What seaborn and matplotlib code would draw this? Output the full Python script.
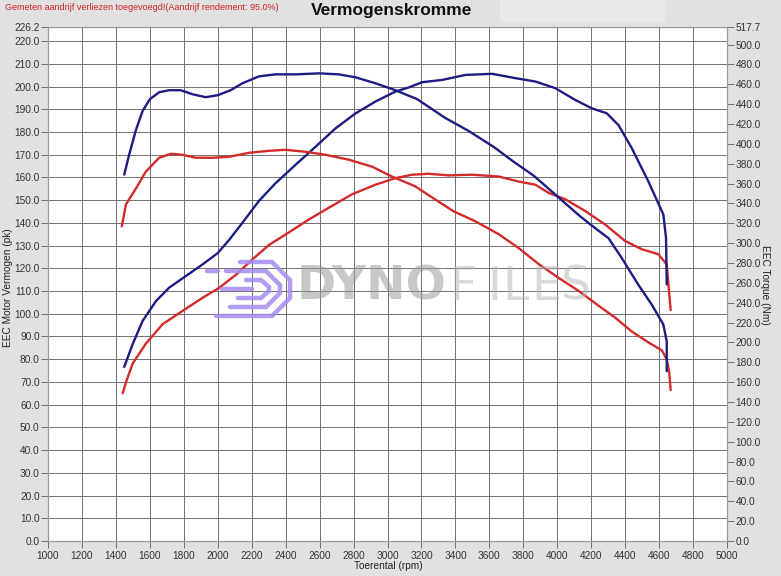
import matplotlib
matplotlib.use("Agg")
import matplotlib.pyplot as plt
from matplotlib.lines import Line2D
from matplotlib.patches import Rectangle
import seaborn as sns
import pandas as pd

# ---------------- data ----------------
tuned_torque_rpm = [1449, 1478, 1518, 1557, 1600, 1655, 1714, 1782, 1851, 1929, 2000, 2076, 2145, 2243,
                    2341, 2459, 2596, 2714, 2812, 2929, 3047, 3175, 3341, 3478, 3625, 3743, 3861, 3988,
                    4135, 4224, 4302, 4380, 4478, 4557, 4625, 4645, 4645]
tuned_torque_nm = [369, 389, 414, 433, 445, 452, 454, 454, 450, 447, 449, 454, 461, 468,
                   470, 470, 471, 470, 467, 461, 454, 445, 426, 413, 397, 382, 368, 349,
                   327, 315, 305, 285, 258, 238, 218, 201, 171]

tuned_power_rpm = [1449, 1498, 1557, 1635, 1714, 1812, 1910, 2000, 2067, 2145, 2243, 2341, 2459, 2576,
                   2694, 2812, 2929, 3047, 3125, 3204, 3322, 3459, 3616, 3753, 3871, 3988, 4106, 4204,
                   4292, 4361, 4439, 4537, 4625, 4641, 4645]
tuned_power_pk = [76.6, 86.5, 96.8, 105.5, 111.5, 116.6, 121.7, 126.7, 132.5, 140.0, 149.7, 157.5, 165.6, 173.5,
                  181.6, 188.2, 193.4, 197.8, 199.6, 201.9, 202.9, 205.1, 205.6, 203.7, 202.2, 199.3, 194.1, 190.4,
                  188.2, 183.0, 172.9, 158.2, 143.7, 133.2, 112.9]

stock_torque_rpm = [1435, 1459, 1518, 1576, 1655, 1724, 1792, 1871, 1969, 2067, 2184, 2302, 2400, 2518,
                    2635, 2773, 2910, 3027, 3125, 3165, 3263, 3390, 3518, 3655, 3773, 3890, 4008, 4125,
                    4243, 4341, 4439, 4537, 4616, 4645, 4659, 4668]
stock_torque_nm = [317, 339, 355, 372, 386, 390, 389, 386, 386, 387, 391, 393, 394, 392,
                   389, 384, 377, 367, 360, 357, 346, 332, 322, 309, 295, 279, 265, 252,
                   237, 225, 211, 200, 192, 183, 171, 152]

stock_power_rpm = [1440, 1460, 1498, 1576, 1675, 1792, 1910, 2008, 2106, 2204, 2302, 2400, 2537, 2655,
                   2792, 2929, 3047, 3145, 3243, 3361, 3498, 3655, 3773, 3871, 3949, 4047, 4165, 4282,
                   4400, 4498, 4596, 4645, 4655, 4668]
stock_power_pk = [65.0, 70.0, 78.0, 86.8, 95.4, 101.2, 107.0, 111.4, 117.1, 123.9, 130.3, 134.9, 141.5, 146.7,
                  152.6, 156.8, 159.7, 161.2, 161.6, 160.9, 161.2, 160.4, 158.2, 156.8, 153.2, 150.4, 145.2, 139.3,
                  132.0, 128.4, 126.2, 121.7, 112.9, 101.6]

x_ticks = list(range(1000, 5001, 200))
left_ticks = [i * 10.0 for i in range(23)] + [226.2]
right_ticks = [i * 20.0 for i in range(26)] + [517.7]

title = "Vermogenskromme"
note = "Gemeten aandrijf verliezen toegevoegd!(Aandrijf rendement: 95.0%)"
xlabel = "Toerental (rpm)"
ylabel_left = "EEC Motor Vermogen (pk)"
ylabel_right = "EEC Torque (Nm)"

# ---------------- style ----------------
sns.set_theme(style="white")
plt.rcParams["font.family"] = ["Liberation Sans", "DejaVu Sans"]

BG = "#e1e1e1"
BLUE = "#1c1c82"
RED = "#d42a2a"
W, H = 781, 576

fig = plt.figure(figsize=(W / 100, H / 100), dpi=100, facecolor=BG)
L, R, T, B = 48, 727, 27, 541
ax = fig.add_axes([L / W, 1 - B / H, (R - L) / W, (B - T) / H])
ax.set_facecolor("white")
ax2 = ax.twinx()

def fx(px):
    return px / W

def fy(py):
    return 1 - py / H

# faint box at top right
fig.patches.append(Rectangle((fx(500), fy(22)), fx(665) - fx(500), fy(0) - fy(22),
                             transform=fig.transFigure, facecolor="#e9e7e8", edgecolor="none", zorder=0))

# ---------------- grid / axes ----------------
ax.set_xlim(1000, 5000)
ax.set_ylim(0, 226.2)
ax2.set_ylim(0, 517.7)
ax.set_xticks(x_ticks)
ax.set_xticklabels([str(v) for v in x_ticks])
ax.set_yticks(left_ticks)
ax.set_yticklabels([f"{v:.1f}" for v in left_ticks])
ax2.set_yticks(right_ticks)
ax2.set_yticklabels([f"{v:.1f}" for v in right_ticks])

ax.grid(True, color="#6f6f6f", linewidth=0.7)
ax.set_axisbelow(True)
ax2.grid(False)

for a in (ax, ax2):
    for s in a.spines.values():
        s.set_color("#9a9a9a")
        s.set_linewidth(0.8)
    a.tick_params(axis="both", which="both", direction="out", length=5, width=0.7,
                  color="#707070", labelsize=7.3, labelcolor="#333333", pad=1)
ax.tick_params(axis="y", left=True, right=False)
ax.tick_params(axis="x", bottom=True, pad=2)
ax2.tick_params(axis="y", right=True, left=False)

# ---------------- watermark ----------------
lav = "#a58cf0"
logo = [
    [(240, 262), (272, 262), (290, 280), (290, 298), (272, 316), (216, 316)],
    [(226, 271), (266, 271), (280, 285), (280, 293), (266, 307), (230, 307)],
    [(246, 280), (261, 280), (269, 287), (269, 291), (261, 298), (238, 298)],
    [(207, 271), (218, 271)],
    [(222, 289), (252, 289)],
]
for pts in logo:
    fig.add_artist(Line2D([fx(p[0]) for p in pts], [fy(p[1]) for p in pts],
                          transform=fig.transFigure, color=lav, lw=3.2, alpha=0.85,
                          solid_joinstyle="miter", zorder=1.5))
fig.text(fx(297), fy(287), "DYNO", fontsize=34, fontweight="bold", family="DejaVu Sans",
         color="#9c9c9c", alpha=0.55, ha="left", va="center", zorder=1.5)
for letter, px in zip("FILES", [449, 487, 502, 531, 561]):
    fig.text(fx(px), fy(287), letter, fontsize=34, family="DejaVu Sans",
             color="#b4b4b4", alpha=0.5, ha="left", va="center", zorder=1.5)

# ---------------- curves ----------------
df_tp = pd.DataFrame({"rpm": tuned_power_rpm, "pk": tuned_power_pk})
df_sp = pd.DataFrame({"rpm": stock_power_rpm, "pk": stock_power_pk})
df_tt = pd.DataFrame({"rpm": tuned_torque_rpm, "nm": tuned_torque_nm})
df_st = pd.DataFrame({"rpm": stock_torque_rpm, "nm": stock_torque_nm})

sns.lineplot(data=df_sp, x="rpm", y="pk", ax=ax, color=RED, lw=1.7, estimator=None, sort=False)
sns.lineplot(data=df_tp, x="rpm", y="pk", ax=ax, color=BLUE, lw=1.7, estimator=None, sort=False)
sns.lineplot(data=df_st, x="rpm", y="nm", ax=ax2, color=RED, lw=1.7, estimator=None, sort=False)
sns.lineplot(data=df_tt, x="rpm", y="nm", ax=ax2, color=BLUE, lw=1.7, estimator=None, sort=False)

ax.set_xlabel("")
ax.set_ylabel("")
ax2.set_xlabel("")
ax2.set_ylabel("")

# ---------------- texts ----------------
fig.text(fx(392), fy(11), title, fontsize=12.5, fontweight="bold", color="#111111",
         ha="center", va="center")
fig.text(fx(5), fy(7), note, fontsize=6.5, color="#d02020", ha="left", va="center")
fig.text(fx(388), fy(566), xlabel, fontsize=7.3, color="#222222", ha="center", va="center")
fig.text(fx(8), fy(288), ylabel_left, fontsize=7.3, color="#222222", rotation=90,
         ha="center", va="center")
fig.text(fx(765), fy(285), ylabel_right, fontsize=7.3, color="#222222", rotation=270,
         ha="center", va="center")

fig.savefig("out.png", dpi=100, facecolor=BG)
